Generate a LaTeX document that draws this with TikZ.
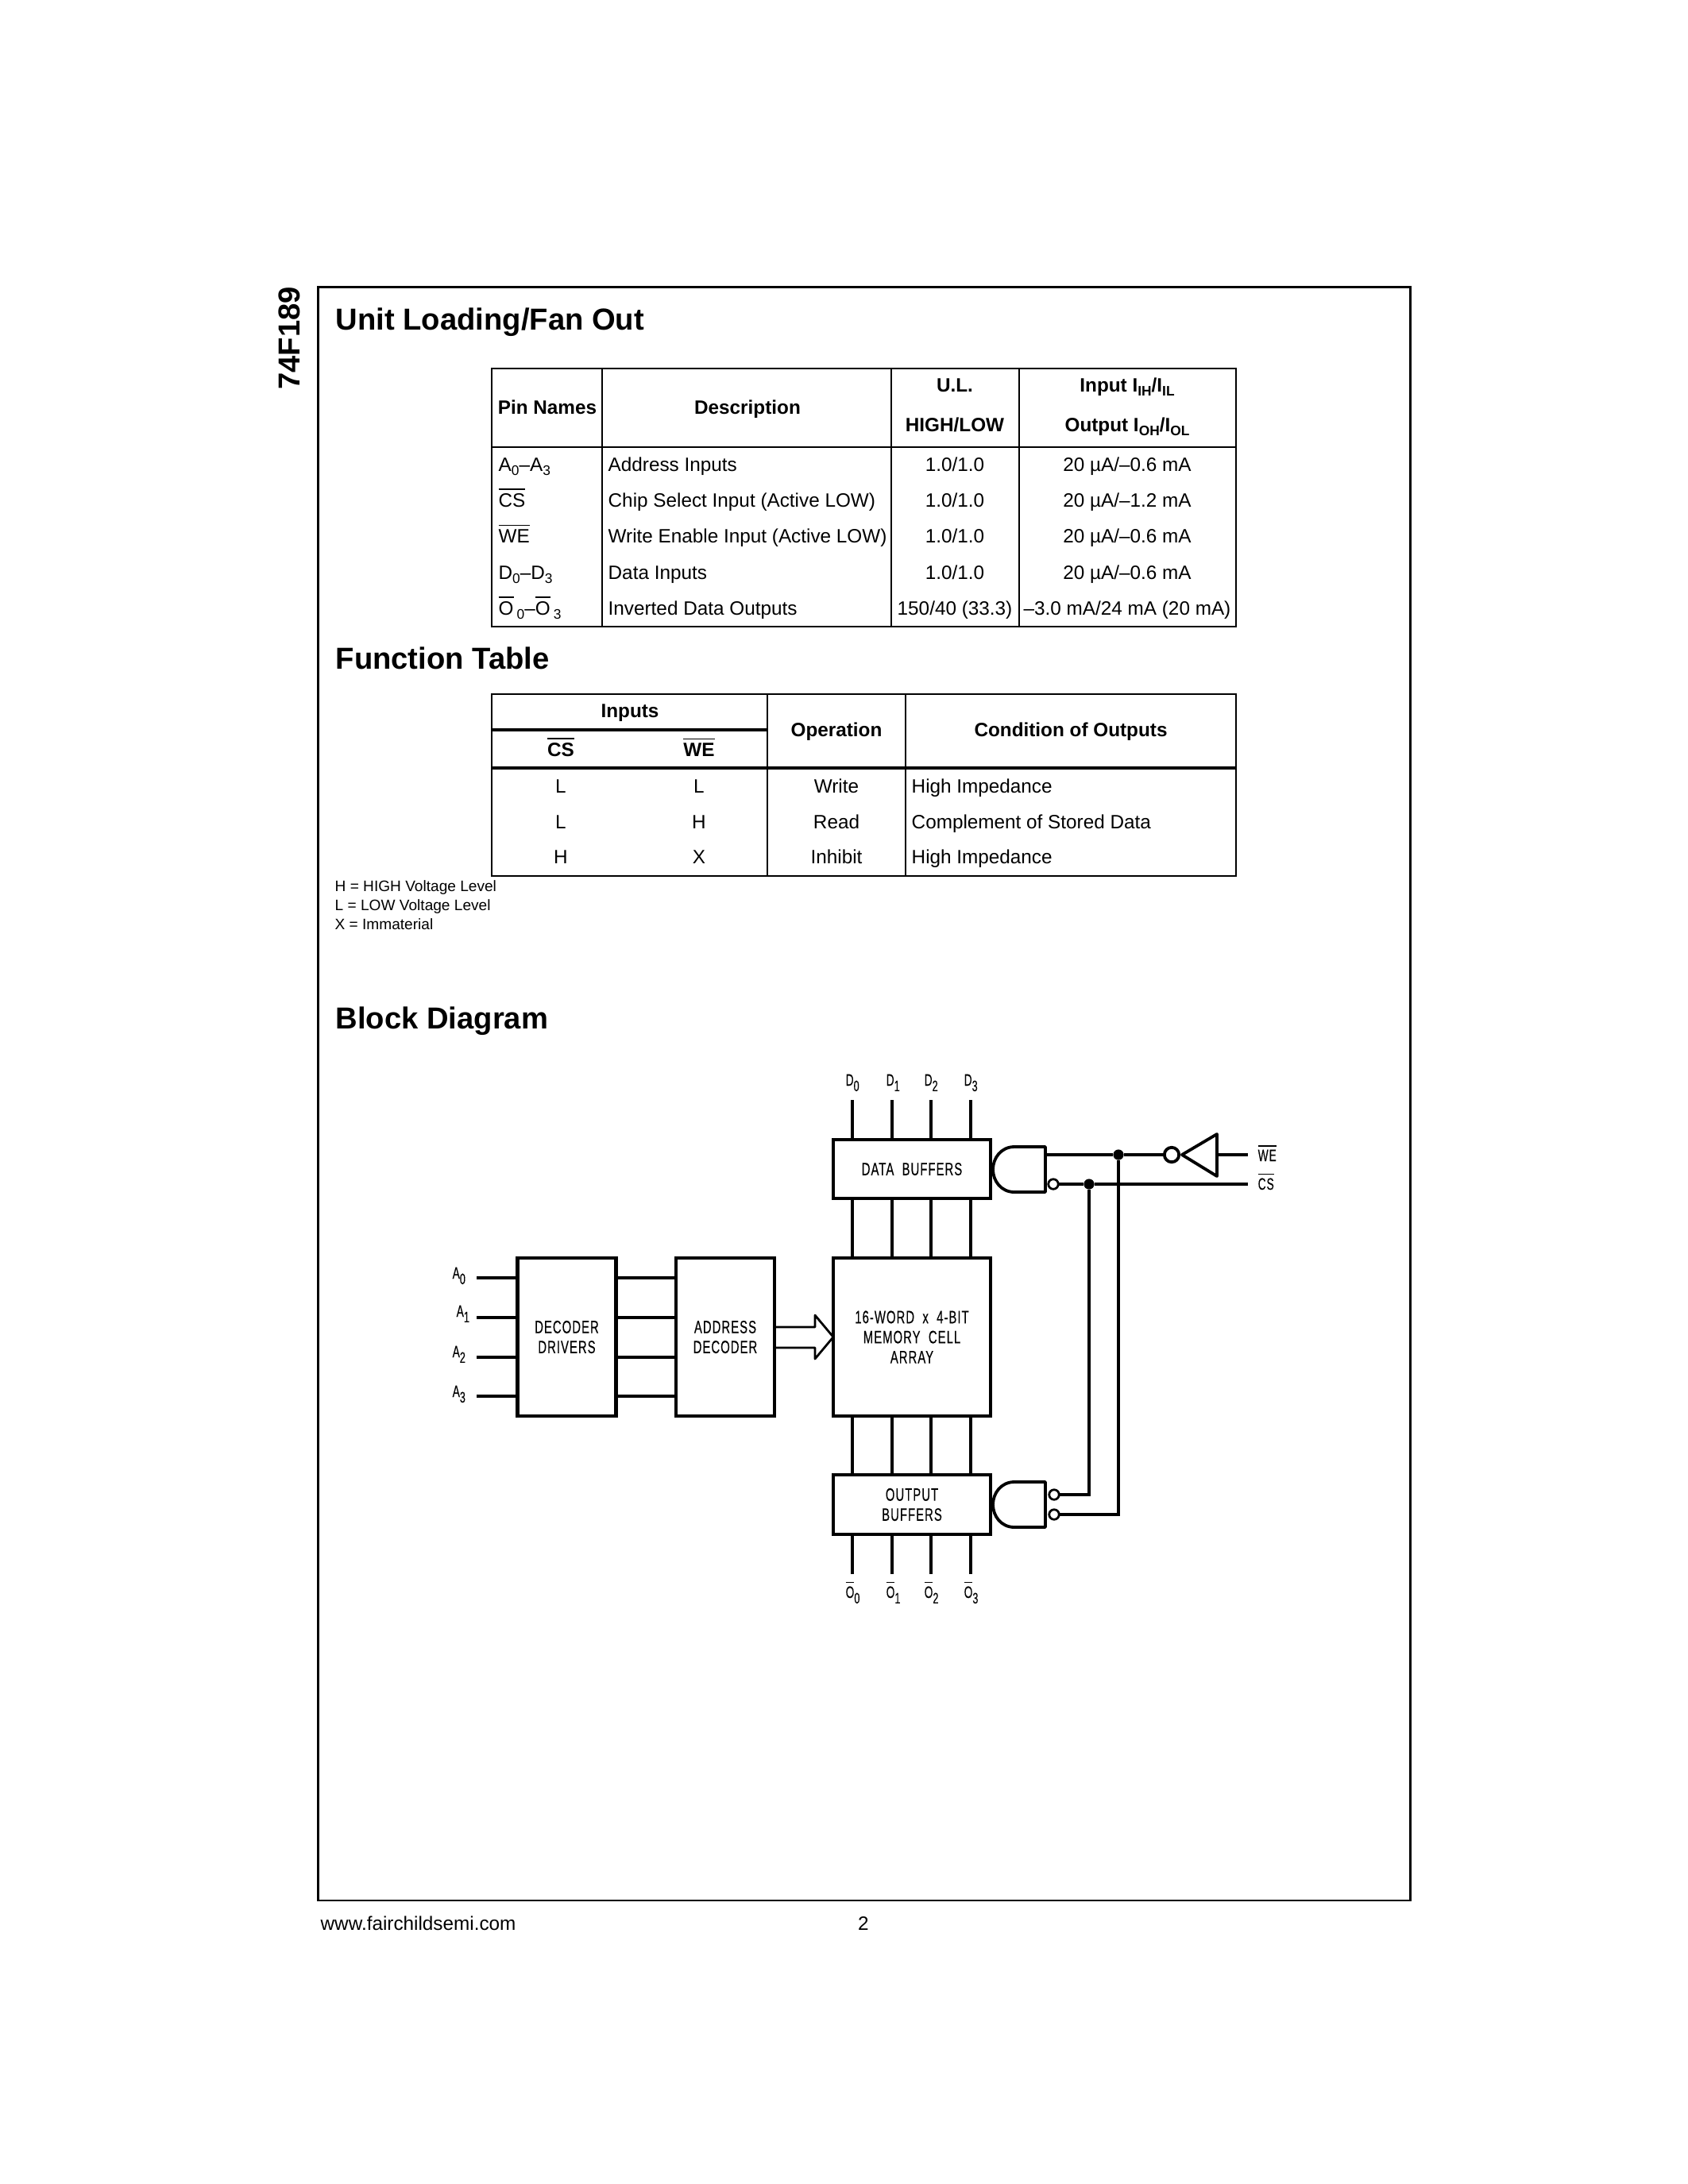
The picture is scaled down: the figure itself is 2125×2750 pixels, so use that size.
\documentclass[tikz,border=0pt]{standalone}
\usepackage{fontspec}
\setmainfont{Liberation Sans}
\newfontfamily\cadfont[FakeStretch=0.66,LetterSpace=4.5,WordSpace=2,FakeBold=0.2]{Liberation Sans}
\usetikzlibrary{calc}
\newcommand{\pxu}{0.288pt}
\newcommand{\barred}[1]{$\overline{\mbox{#1}}$}
\newcommand{\subd}[1]{\raisebox{-1.6pt}{\fontsize{5}{6}\selectfont #1}}
\newcommand{\cadsub}[1]{\raisebox{-2pt}{\fontsize{5.5}{6}\selectfont #1}}
\tikzset{
  tabrule/.style={line width=0.8pt},
  headrule/.style={line width=0.9pt},
  bodycell/.style={font=\fontsize{7}{8.4}\selectfont, inner sep=0pt, anchor=base},
  bodyleft/.style={bodycell, anchor=base west},
  headcell/.style={bodycell, font=\fontsize{7}{8.4}\selectfont\bfseries},
  sectionhead/.style={font=\fontsize{11}{13}\selectfont\bfseries, inner sep=0pt, anchor=base west},
  legendline/.style={font=\fontsize{5.5}{6.6}\selectfont, inner sep=0pt, anchor=base west},
  blockbox/.style={draw, line width=1.35pt, inner sep=0pt, outer sep=0pt, align=center,
    font=\cadfont\fontsize{6.5}{7.25}\selectfont},
  pinlabel/.style={font=\cadfont\fontsize{6}{8}\selectfont, inner sep=0pt, anchor=base west},
  wire/.style={line width=1pt},
  thinwire/.style={line width=0.8pt},
  gateline/.style={line width=1.1pt, line join=round},
  pinbubble/.style={circle, draw, fill=white, line width=0.8pt, minimum size=3.6pt, inner sep=0pt, outer sep=0pt},
  jdot/.style={circle, fill=black, minimum size=3.8pt, inner sep=0pt, outer sep=0pt}
}

\begin{document}
\begin{tikzpicture}[x=0.288pt, y=-0.288pt]
    % === Page and frame ===
    \fill[white] (0,0) rectangle (2125,2750);
    \draw[tabrule] (400.5,361.5) rectangle (1775.5,2393);
    \node[font=\fontsize{11}{13}\selectfont\bfseries, rotate=90, inner sep=0pt] (partno) at (364,426) {74F189};
    \node[sectionhead] (unithead) at (422,415) {Unit Loading/Fan Out};
    \node[sectionhead] (funchead) at (422,842) {Function Table};
    \node[sectionhead] (blockhead) at (422,1295) {Block Diagram};
    \node[bodyleft] (website) at (403,2430) {www.fairchildsemi.com};
    \node[bodycell] (pageno) at (1087,2430) {2};

    % === Unit loading table ===
    \draw[tabrule] (619,464) rectangle (1556,789);
    \draw[tabrule] (619,563) -- (1556,563);
    \foreach \colx in {758,1122,1283}
      \draw[tabrule] (\colx,464) -- (\colx,789);
    \node[headcell] (hpin) at (689,521) {Pin Names};
    \node[headcell] (hdesc) at (941,521) {Description};
    \node[headcell] (hul) at (1202,493) {U.L.};
    \node[headcell] (hhl) at (1202,543) {HIGH/LOW};
    \node[headcell] (hin) at (1419,493) {Input I\subd{IH}/I\subd{IL}};
    \node[headcell] (hout) at (1419,543) {Output I\subd{OH}/I\subd{OL}};
    \foreach \rowy/\pin/\desc/\ul/\cur in {
        593/{A\subd{0}--A\subd{3}}/{Address Inputs}/{1.0/1.0}/{20 µA/--0.6 mA},
        638/{\barred{CS}}/{Chip Select Input (Active LOW)}/{1.0/1.0}/{20 µA/--1.2 mA},
        683/{\barred{WE}}/{Write Enable Input (Active LOW)}/{1.0/1.0}/{20 µA/--0.6 mA},
        729/{D\subd{0}--D\subd{3}}/{Data Inputs}/{1.0/1.0}/{20 µA/--0.6 mA},
        774/{\barred{O}\,\subd{0}--\barred{O}\,\subd{3}}/{Inverted Data Outputs}/{150/40 (33.3)}/{--3.0 mA/24 mA (20 mA)}} {
      \node[bodyleft] (pin\rowy) at (627,\rowy) {\pin};
      \node[bodyleft] (desc\rowy) at (765,\rowy) {\desc};
      \node[bodycell] (ul\rowy) at (1202,\rowy) {\ul};
      \node[bodycell] (cur\rowy) at (1419,\rowy) {\cur};
    }

    % === Function table ===
    \draw[tabrule] (619,874) rectangle (1556,1103);
    \draw[headrule] (619,919) -- (966,919);
    \draw[headrule] (619,967) -- (1556,967);
    \foreach \colx in {966,1140}
      \draw[tabrule] (\colx,874) -- (\colx,1103);
    \node[headcell] (hinputs) at (793,903) {Inputs};
    \node[headcell] (hcs) at (706,952) {\barred{CS}};
    \node[headcell] (hwe) at (880,952) {\barred{WE}};
    \node[headcell] (hop) at (1053,927) {Operation};
    \node[headcell] (hcond) at (1348,927) {Condition of Outputs};
    \foreach \rowy/\csv/\wev/\oper/\cond in {
        998/L/L/Write/High Impedance,
        1043/L/H/Read/Complement of Stored Data,
        1087/H/X/Inhibit/High Impedance} {
      \node[bodycell] (cs\rowy) at (706,\rowy) {\csv};
      \node[bodycell] (we\rowy) at (880,\rowy) {\wev};
      \node[bodycell] (op\rowy) at (1053,\rowy) {\oper};
      \node[bodyleft] (cond\rowy) at (1147,\rowy) {\cond};
    }
    \node[legendline] (legh) at (421,1122) {H = HIGH Voltage Level};
    \node[legendline] (legl) at (421,1146) {L = LOW Voltage Level};
    \node[legendline] (legx) at (421,1170) {X = Immaterial};

    % === Blocks ===
    \node[blockbox, minimum width=198*\pxu, minimum height=74*\pxu] (dbuf) at (1148,1472) {DATA BUFFERS};
    \node[blockbox, minimum width=198*\pxu, minimum height=199*\pxu] (mem) at (1148,1683.5) {16-WORD x 4-BIT\\MEMORY CELL\\ARRAY};
    \node[blockbox, minimum width=198*\pxu, minimum height=75*\pxu] (obuf) at (1148,1894.5) {OUTPUT\\BUFFERS};
    \node[blockbox, minimum width=124*\pxu, minimum height=199*\pxu] (drv) at (713.5,1683.5) {DECODER\\DRIVERS};
    \node[blockbox, minimum width=124*\pxu, minimum height=199*\pxu] (addr) at (913,1683.5) {ADDRESS\\DECODER};

    % === Data and output pins ===
    \foreach \i/\xd/\xt in {0/1073/1064,1/1123/1115,2/1172/1163,3/1222/1213} {
      \coordinate (din\i) at (\xd,1385);
      \coordinate (oout\i) at (\xd,1982);
      \node[pinlabel] (dlab\i) at (\xt,1367) {D\cadsub{\i}};
      \node[pinlabel] (olab\i) at (\xt,2012) {\barred{O}\cadsub{\i}};
      \draw[wire] (din\i) -- (din\i |- dbuf.north);
      \draw[wire] (din\i |- dbuf.south) -- (din\i |- mem.north);
      \draw[wire] (din\i |- mem.south) -- (din\i |- obuf.north);
      \draw[wire] (oout\i) -- (oout\i |- obuf.south);
    }

    % === Address pins ===
    \foreach \i/\ya/\xl/\yl in {0/1609/569/1610,1/1659/574/1658,2/1709/569/1709,3/1758/569/1759} {
      \coordinate (ain\i) at (600,\ya);
      \node[pinlabel] (alab\i) at (\xl,\yl) {A\cadsub{\i}};
      \draw[wire] (ain\i) -- (ain\i -| drv.west);
      \draw[wire] (ain\i -| drv.east) -- (ain\i -| addr.west);
    }

    % Hollow arrow into the memory array
    \coordinate (busup) at ($(addr.east |- 0,1671)$);
    \coordinate (busdown) at ($(addr.east |- 0,1697)$);
    \draw[thinwire, line join=round] (busup) -- (1026,1671) -- (1026,1656) -- (mem.west)
      -- (1026,1711) -- (1026,1697) -- (busdown);

    % === Enable gates ===
    \foreach \gy in {1472.5,1894.5}
      \draw[gateline, fill=white] (1316,\gy-28.5) -- (1277,\gy-28.5)
        .. controls (1260,\gy-28.5) and (1250,\gy-14) .. (1250,\gy)
        .. controls (1250,\gy+14) and (1260,\gy+28.5) .. (1277,\gy+28.5)
        -- (1316,\gy+28.5) -- cycle;

    % Control lines
    \coordinate (gatewe) at (1316,1454);
    \coordinate (wein) at (1571,1454);
    \coordinate (csin) at (1571,1491);
    \coordinate (invtip) at (1488,1454);
    \coordinate (invbase) at (1532,1454);
    \node[pinbubble] (bubcsa) at (1326,1491) {};
    \node[pinbubble] (bubcsb) at (1327,1882) {};
    \node[pinbubble] (bubweb) at (1327,1907) {};
    \node[pinbubble, minimum size=5.3pt, line width=1.1pt] (bubinv) at (1475,1454) {};
    \node[jdot] (dotwe) at (1408,1454) {};
    \node[jdot] (dotcs) at (1371,1491) {};
    \draw[gateline] (invtip) -- (1532,1428) -- (1532,1481) -- cycle;
    \draw[wire] (gatewe) -- (dotwe) -- (bubinv);
    \draw[wire] (invbase) -- (wein);
    \draw[wire] (bubcsa) -- (dotcs) -- (csin);
    \draw[wire] (bubcsb) -| (dotcs);
    \draw[wire] (bubweb) -| (dotwe);
    \node[pinlabel] (welab) at (1583,1462) {\barred{WE}};
    \node[pinlabel] (cslab) at (1583,1498) {\barred{CS}};
\end{tikzpicture}
\end{document}
